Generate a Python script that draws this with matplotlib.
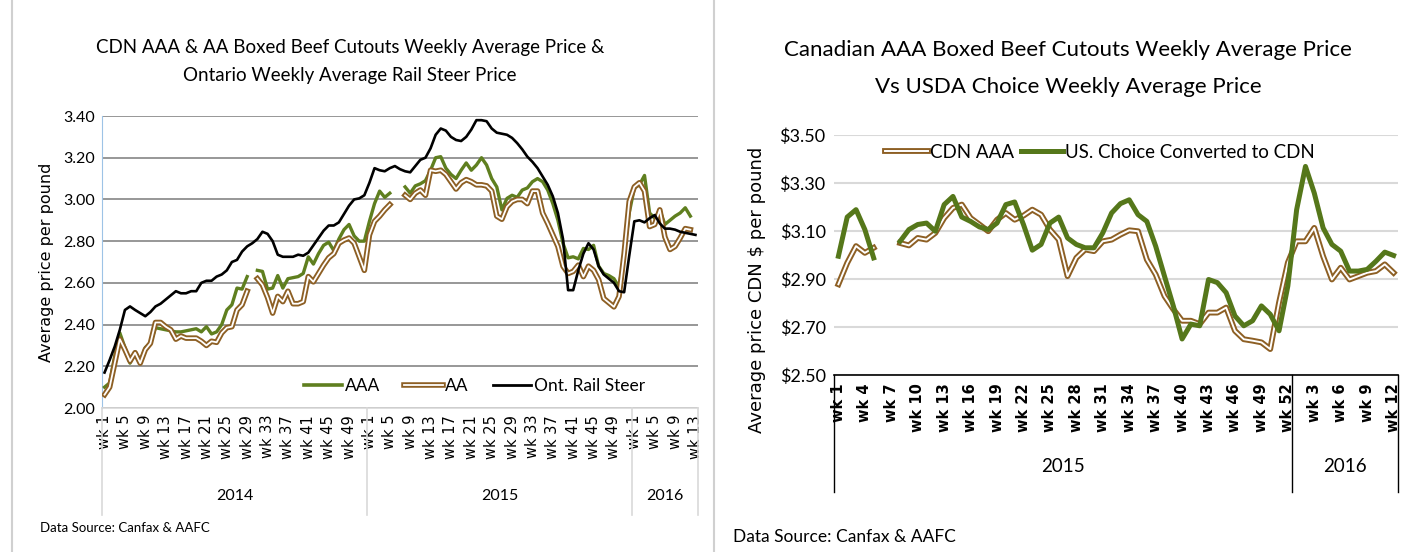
import numpy as np
import matplotlib
matplotlib.use("Agg")
import matplotlib.pyplot as plt
import matplotlib.transforms as mtransforms
from matplotlib.lines import Line2D
from matplotlib.legend_handler import HandlerTuple

NARROW = ['Lato', 'DejaVu Sans']
nan = np.nan

# ---- left chart data (2014 wk1 .. 2016 wk13) ----
years_left = ['2014', '2015', '2016']
weeks_left = [52, 52, 13]

aaa = [2.10, 2.12, 2.25, 2.36, 2.29, 2.215, 2.27, 2.225, 2.29, 2.31,
       2.385, 2.38, 2.375, 2.37, 2.365, 2.365, 2.37, 2.375, 2.38, 2.365,
       2.39, 2.355, 2.365, 2.40, 2.47, 2.495, 2.575, 2.57, 2.63, nan,
       2.66, 2.655, 2.57, 2.575, 2.635, 2.575, 2.62, 2.625, 2.63, 2.645,
       2.725, 2.69, 2.74, 2.78, 2.795, 2.755, 2.81, 2.855, 2.88, 2.825,
       2.80, 2.80, 2.895, 2.98, 3.04, 3.01, 3.03, nan, nan, 3.06,
       3.03, 3.065, 3.075, 3.09, 3.14, 3.20, 3.205, 3.15, 3.12, 3.10,
       3.14, 3.175, 3.14, 3.165, 3.20, 3.165, 3.10, 3.06, 2.95, 3.005,
       3.02, 3.01, 3.045, 3.055, 3.085, 3.10, 3.085, 3.045, 2.98, 2.90,
       2.79, 2.72, 2.725, 2.715, 2.765, 2.76, 2.78, 2.68, 2.645, 2.635,
       2.62, 2.58, 2.74, 2.935, 3.055, 3.07, 3.115, 2.935, 2.91, 2.95,
       2.88, 2.90, 2.92, 2.935, 2.96, 2.92, nan]

aa = [2.064, 2.10, 2.215, 2.33, 2.28, 2.225, 2.265, 2.215, 2.28, 2.31,
      2.41, 2.41, 2.39, 2.375, 2.33, 2.345, 2.335, 2.335, 2.335, 2.32,
      2.30, 2.32, 2.315, 2.36, 2.385, 2.39, 2.47, 2.495, 2.56, nan,
      2.62, 2.59, 2.53, 2.455, 2.535, 2.51, 2.56, 2.50, 2.50, 2.51,
      2.63, 2.605, 2.645, 2.685, 2.72, 2.74, 2.79, 2.805, 2.815, 2.79,
      2.725, 2.66, 2.83, 2.895, 2.92, 2.95, 2.975, nan, nan, 3.02,
      3.00, 3.03, 3.045, 3.02, 3.14, 3.135, 3.14, 3.12, 3.085, 3.05,
      3.08, 3.095, 3.085, 3.07, 3.07, 3.065, 3.04, 2.92, 2.905, 2.965,
      2.99, 3.00, 3.00, 2.98, 3.04, 3.04, 2.935, 2.885, 2.83, 2.775,
      2.68, 2.645, 2.655, 2.685, 2.63, 2.68, 2.66, 2.615, 2.525, 2.505,
      2.485, 2.535, 2.74, 2.99, 3.06, 3.08, 3.04, 2.87, 2.88, 2.95,
      2.82, 2.76, 2.775, 2.815, 2.86, 2.855, nan]

rail = [2.17, 2.23, 2.295, 2.375, 2.47, 2.487, 2.47, 2.455, 2.44, 2.46,
        2.487, 2.50, 2.52, 2.54, 2.56, 2.55, 2.55, 2.56, 2.56, 2.60,
        2.61, 2.61, 2.63, 2.64, 2.66, 2.70, 2.71, 2.75, 2.775, 2.79,
        2.81, 2.845, 2.835, 2.80, 2.735, 2.725, 2.725, 2.725, 2.735, 2.73,
        2.745, 2.78, 2.815, 2.85, 2.875, 2.875, 2.89, 2.93, 2.97, 3.00,
        3.005, 3.02, 3.08, 3.15, 3.14, 3.135, 3.15, 3.16, 3.145, 3.135,
        3.13, 3.16, 3.19, 3.20, 3.245, 3.31, 3.34, 3.33, 3.30, 3.285,
        3.28, 3.30, 3.335, 3.38, 3.38, 3.375, 3.34, 3.32, 3.315, 3.31,
        3.295, 3.27, 3.24, 3.205, 3.18, 3.15, 3.11, 3.07, 3.015, 2.935,
        2.81, 2.565, 2.565, 2.66, 2.74, 2.79, 2.76, 2.68, 2.64, 2.62,
        2.60, 2.56, 2.555, 2.73, 2.895, 2.90, 2.89, 2.91, 2.925, 2.885,
        2.86, 2.86, 2.855, 2.845, 2.84, 2.835, 2.83]

# ---- right chart data (2015 wk1 .. 2016 wk12) ----
years_right = ['2015', '2016']
weeks_right = [52, 12]

cdn_aaa = [2.878, 2.967, 3.037, 3.009, 3.03, nan, nan, 3.05, 3.04, 3.071,
           3.064, 3.092, 3.154, 3.196, 3.21, 3.154, 3.127, 3.099, 3.147, 3.175,
           3.147, 3.164, 3.189, 3.168, 3.106, 3.064, 2.912, 2.988, 3.023, 3.016,
           3.057, 3.064, 3.085, 3.103, 3.099, 2.981, 2.919, 2.829, 2.774, 2.726,
           2.726, 2.712, 2.76, 2.76, 2.781, 2.684, 2.649, 2.643, 2.636, 2.608,
           2.802, 2.968, 3.057, 3.057, 3.113, 2.995, 2.898, 2.947, 2.898, 2.912,
           2.926, 2.933, 2.961, 2.926]

us_choice = [2.995, 3.158, 3.189, 3.106, 2.988, nan, nan, 3.057, 3.106, 3.127,
             3.133, 3.099, 3.21, 3.244, 3.158, 3.14, 3.117, 3.106, 3.133, 3.21,
             3.221, 3.127, 3.02, 3.044, 3.133, 3.158, 3.071, 3.044, 3.03, 3.03,
             3.092, 3.175, 3.214, 3.23, 3.168, 3.14, 3.037, 2.912, 2.788, 2.65,
             2.712, 2.705, 2.898, 2.885, 2.843, 2.746, 2.705, 2.726, 2.788, 2.753,
             2.684, 2.871, 3.189, 3.369, 3.258, 3.113, 3.044, 3.016, 2.933, 2.933,
             2.94, 2.974, 3.012, 2.998]

GREEN = '#5f7f1f'
GREEN2 = '#55771a'
BROWN = '#8d5f24'

W, H = 1410, 552
fig = plt.figure(figsize=(W / 100, H / 100), dpi=100)


def px_axes(x0, y0, x1, y1):
    return fig.add_axes([x0 / W, 1 - y1 / H, (x1 - x0) / W, (y1 - y0) / H])


def week_labels(counts):
    labs = []
    for n in counts:
        labs += ['wk %d' % w for w in range(1, n + 1)]
    return labs


# panel borders
for xp in (12, 714):
    fig.add_artist(Line2D([xp / W, xp / W], [0, 1], color='#d0d0d0', lw=1.5))

# ================= left chart =================
axl = px_axes(102, 116, 698, 408)
nl = sum(weeks_left)
xl = np.arange(nl)
axl.plot(xl, aaa, color=GREEN, lw=2.4, zorder=3)
axl.plot(xl, aa, color=BROWN, lw=4.0, zorder=3)
axl.plot(xl, aa, color='white', lw=1.3, zorder=3)
axl.plot(xl, rail, color='black', lw=1.9, zorder=4)
axl.set_xlim(-0.5, nl - 0.5)
axl.set_ylim(2.0, 3.4)
lt = np.arange(2.0, 3.41, 0.2)
axl.set_yticks(lt)
axl.set_yticklabels(['%.2f' % v for v in lt], family=NARROW, fontsize=11.5)
axl.yaxis.grid(True, color='#858585', lw=1.2)
axl.set_axisbelow(True)
labs = week_labels(weeks_left)
axl.set_xticks(xl[::4])
axl.set_xticklabels(labs[::4], rotation=90, fontsize=10.5, family='DejaVu Sans')
axl.tick_params(axis='both', length=0, pad=5)
for s in ('top', 'right'):
    axl.spines[s].set_visible(False)
axl.spines['left'].set_color('#9dc3e6')
axl.spines['bottom'].set_color('#d9d9d9')
axl.spines['bottom'].set_linewidth(1.2)

trl = mtransforms.blended_transform_factory(axl.transData, axl.transAxes)
edges = np.concatenate([[0], np.cumsum(weeks_left)]) - 0.5
for e in edges:
    axl.plot([e, e], [0, -0.366], transform=trl, color='#d9d9d9', lw=1.2, clip_on=False)
for i, y in enumerate(years_left):
    axl.text((edges[i] + edges[i + 1]) / 2, -0.30, y, transform=trl, ha='center', va='center',
             family=NARROW, fontsize=11.5)

h_aa = (Line2D([], [], color=BROWN, lw=4.0), Line2D([], [], color='white', lw=1.3))
axl.legend([Line2D([], [], color=GREEN, lw=2.6), h_aa, Line2D([], [], color='black', lw=2)],
           ['AAA', 'AA', 'Ont. Rail Steer'], ncol=3, loc='center',
           bbox_to_anchor=(0.625, 0.075), frameon=False, handlelength=2.2,
           handletextpad=0.15, columnspacing=1.4,
           handler_map={tuple: HandlerTuple(ndivide=1)},
           prop={'family': NARROW, 'size': 12.5})

fig.text(350 / W, 1 - 48 / H, 'CDN AAA & AA Boxed Beef Cutouts Weekly Average Price &',
         ha='center', va='center', family=NARROW, fontsize=13.5)
fig.text(350 / W, 1 - 75 / H, 'Ontario Weekly Average Rail Steer Price',
         ha='center', va='center', family=NARROW, fontsize=13.5)
fig.text(47 / W, 1 - 262 / H, 'Average price per pound', rotation=90,
         ha='center', va='center', fontsize=11.5)
fig.text(40 / W, 1 - 528 / H, 'Data Source: Canfax & AAFC', ha='left', va='center',
         family=NARROW, fontsize=9.5)

# ================= right chart =================
axr = px_axes(834, 135, 1398, 375)
nr = sum(weeks_right)
xr = np.arange(nr)
axr.plot(xr, cdn_aaa, color=BROWN, lw=4.2, zorder=3)
axr.plot(xr, cdn_aaa, color='white', lw=1.4, zorder=3)
axr.plot(xr, us_choice, color=GREEN2, lw=3.6, zorder=4)
axr.set_xlim(-0.5, nr - 0.5)
axr.set_ylim(2.5, 3.5)
rt = np.arange(2.5, 3.51, 0.2)
axr.set_yticks(rt)
axr.set_yticklabels(['$%.2f' % v for v in rt], family=NARROW, fontsize=13)
axr.yaxis.grid(True, color='#d9d9d9', lw=1.5)
axr.set_axisbelow(True)
labs_r = week_labels(weeks_right)
axr.set_xticks(xr[::3])
axr.set_xticklabels(labs_r[::3], rotation=90, fontsize=10.5, fontweight='bold',
                    family='DejaVu Sans')
axr.tick_params(axis='both', length=0, pad=6)
for s in ('top', 'right', 'left'):
    axr.spines[s].set_visible(False)
axr.spines['bottom'].set_color('black')
axr.spines['bottom'].set_linewidth(1.2)

trr = mtransforms.blended_transform_factory(axr.transData, axr.transAxes)
edges_r = np.concatenate([[0], np.cumsum(weeks_right)]) - 0.5
for e in edges_r:
    axr.plot([e, e], [0, -0.4875], transform=trr, color='black', lw=1.0, clip_on=False)
for i, y in enumerate(years_right):
    axr.text((edges_r[i] + edges_r[i + 1]) / 2, -0.383, y, transform=trr, ha='center',
             va='center', family=NARROW, fontsize=13.5)

h_cdn = (Line2D([], [], color=BROWN, lw=4.2), Line2D([], [], color='white', lw=1.4))
axr.legend([h_cdn, Line2D([], [], color=GREEN2, lw=3.6)],
           ['CDN AAA', 'US. Choice Converted to CDN'], ncol=2, loc='center',
           bbox_to_anchor=(0.472, 0.929), frameon=False, handlelength=2.25,
           handletextpad=0.1, columnspacing=0.4,
           handler_map={tuple: HandlerTuple(ndivide=1)},
           prop={'family': NARROW, 'size': 13.5})

fig.text(1068 / W, 1 - 50 / H, 'Canadian AAA Boxed Beef Cutouts Weekly Average Price',
         ha='center', va='center', family=NARROW, fontsize=16)
fig.text(1068 / W, 1 - 87 / H, 'Vs USDA Choice Weekly Average Price',
         ha='center', va='center', family=NARROW, fontsize=16)
fig.text(757 / W, 1 - 290 / H, 'Average price CDN $ per pound', rotation=90,
         ha='center', va='center', fontsize=13)
fig.text(733 / W, 1 - 537 / H, 'Data Source: Canfax & AAFC', ha='left', va='center',
         family=NARROW, fontsize=12.5)

fig.savefig('out.png', dpi=100, facecolor='white')
